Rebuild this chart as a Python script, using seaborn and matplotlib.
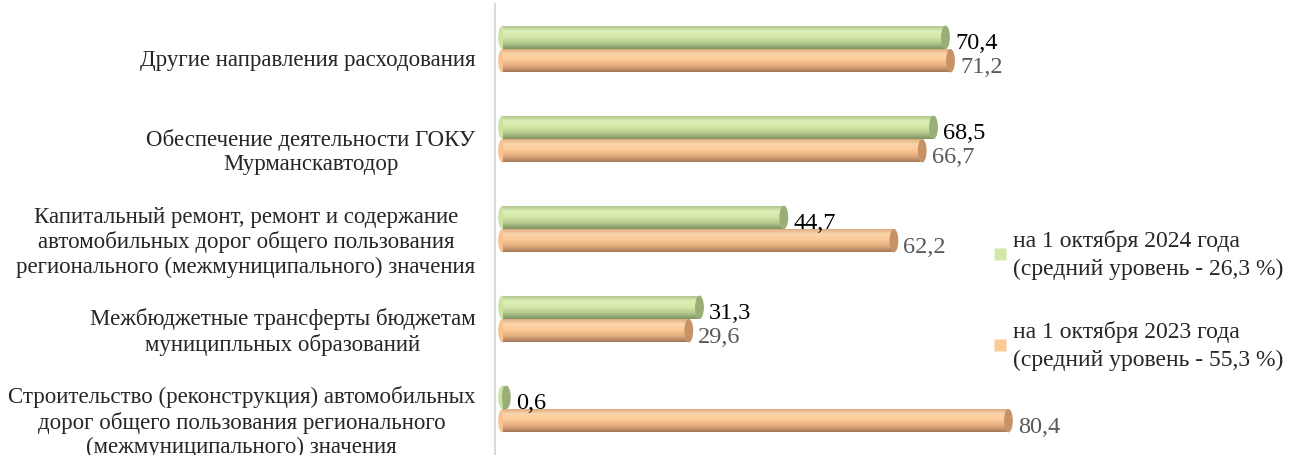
import numpy as np
import pandas as pd
import seaborn as sns
import matplotlib.pyplot as plt
import matplotlib.transforms as mtransforms
from matplotlib.patches import Ellipse
from matplotlib.colors import LinearSegmentedColormap
from matplotlib.lines import Line2D

categories = [
    "Другие направления расходования",
    "Обеспечение деятельности ГОКУ\nМурманскавтодор",
    "Капитальный ремонт, ремонт и содержание\nавтомобильных дорог общего пользования\nрегионального (межмуниципального) значения",
    "Межбюджетные трансферты бюджетам\nмуниципльных образований",
    "Строительство (реконструкция) автомобильных\nдорог общего пользования регионального\n(межмуниципального) значения",
]
periods = ["на 1 октября 2024 года\n(средний уровень - 26,3 %)",
           "на 1 октября 2023 года\n(средний уровень - 55,3 %)"]
v2024 = [70.4, 68.5, 44.7, 31.3, 0.6]
v2023 = [71.2, 66.7, 62.2, 29.6, 80.4]

df = pd.DataFrame({
    "cat": categories * 2,
    "period": [periods[0]] * 5 + [periods[1]] * 5,
    "value": v2024 + v2023,
})

sns.set_theme(style="white")
plt.rcParams["font.family"] = ["Liberation Serif", "DejaVu Serif"]

fig = plt.figure(figsize=(12.92, 4.56), dpi=100)
ax = fig.add_axes([495 / 1292, 1 - 455 / 456, 604 / 1292, 450 / 456])

colors = ["#d3e8a6", "#fcc896"]
sns.barplot(data=df, y="cat", x="value", hue="period", orient="h",
            palette=colors, width=0.52, ax=ax, legend=False, saturation=1)

# cylinder look: vertical gradient + end cap
grads = [
    LinearSegmentedColormap.from_list("g", ["#a9bd86", "#dcefb6", "#d4e8a8", "#b5c98e", "#7f9562"]),
    LinearSegmentedColormap.from_list("o", ["#d7a47a", "#fdd6ab", "#fcc896", "#e2ac7c", "#a57a5a"]),
]
caps = ["#9aae78", "#c79266"]
grad = np.linspace(0, 1, 64).reshape(-1, 1)
for i, cont in enumerate(ax.containers):
    for bar in cont:
        x0, y0 = bar.get_x(), bar.get_y()
        w, h = bar.get_width(), bar.get_height()
        bar.set_edgecolor("none")
        im = ax.imshow(grad, cmap=grads[i], aspect="auto",
                       extent=(x0, x0 + w, y0 + h, y0), zorder=2)
        im.set_clip_path(bar)
        ax.add_patch(Ellipse((x0 + w, y0 + h / 2), 1.4, h, facecolor=caps[i],
                             edgecolor="none", zorder=3))
        ax.add_patch(Ellipse((x0, y0 + h / 2), 1.4, h, facecolor=grads[i](0.55),
                             edgecolor="none", zorder=1.5))

label_colors = ["#000000", "#595959"]
for i, cont in enumerate(ax.containers):
    for bar in cont:
        w = bar.get_width()
        yc = bar.get_y() + bar.get_height() / 2
        ax.text(w + 1.5, yc + 0.06, f"{w:.1f}".replace(".", ","),
                va="center", ha="left", fontsize=17.5, color=label_colors[i], zorder=4)

ax.set_xlim(-1.2, 94.8)
ax.set_ylim(4.5, -0.5)
ax.set_xlabel("")
ax.set_ylabel("")
ax.set_xticks([])
for s in ["top", "right", "bottom"]:
    ax.spines[s].set_visible(False)
ax.spines["left"].set_color("#d9d9d9")
ax.spines["left"].set_linewidth(1.5)
ax.tick_params(axis="y", length=0, pad=14, labelsize=16.5)
offset = mtransforms.ScaledTranslation(0, -8 / 100, fig.dpi_scale_trans)
for lab in ax.get_yticklabels():
    lab.set_multialignment("center")
    lab.set_transform(lab.get_transform() + offset)

handles = [Line2D([], [], marker="s", linestyle="none", markersize=8,
                  markerfacecolor=c, markeredgecolor="none") for c in colors]
leg = fig.legend(handles, periods, loc="upper left", bbox_to_anchor=(982 / 1292, 1 - 221 / 456),
                 frameon=False, fontsize=17, labelspacing=1.75, handletextpad=0.2,
                 handlelength=0.7, borderaxespad=0)
for t in leg.get_texts():
    t.set_linespacing(1.4)

fig.savefig("out.png", dpi=100)
